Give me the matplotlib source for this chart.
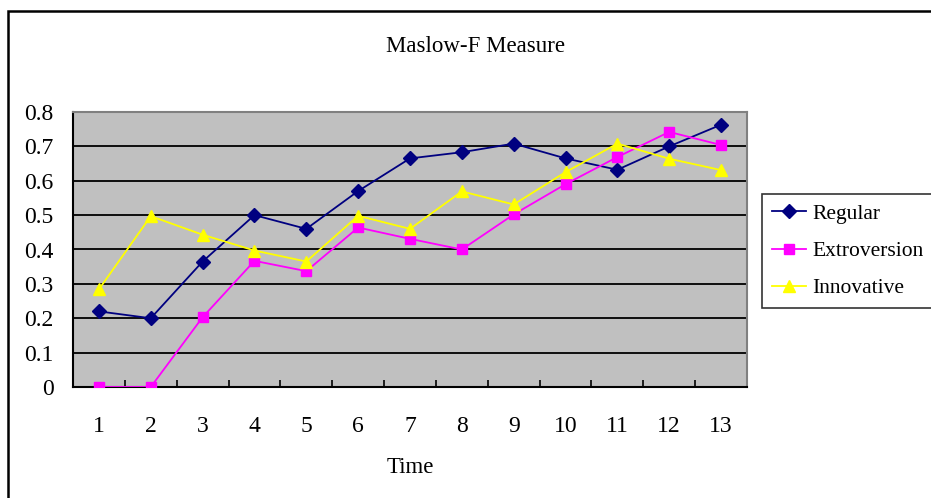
import matplotlib
matplotlib.use("Agg")
import matplotlib.pyplot as plt
import matplotlib.patches as patches

plt.rcParams['font.family'] = ['Liberation Serif', 'DejaVu Serif']

# survey rounds
times = [1, 2, 3, 4, 5, 6, 7, 8, 9, 10, 11, 12, 13]
tick_labels = [str(t) for t in times]

# Maslow-F scores per group
regular = [0.22, 0.20, 0.365, 0.50, 0.46, 0.57, 0.665, 0.683, 0.708, 0.665, 0.632, 0.70, 0.763]
extroversion = [0.0, 0.0, 0.203, 0.367, 0.337, 0.464, 0.431, 0.40, 0.502, 0.59, 0.669, 0.742, 0.704]
innovative = [0.284, 0.497, 0.443, 0.397, 0.365, 0.498, 0.46, 0.569, 0.531, 0.625, 0.708, 0.664, 0.631]

fig = plt.figure(figsize=(9.31, 4.98), dpi=100)

# outer chart frame, runs off the right and bottom edges
frame = patches.Rectangle((8 / 931, -0.1), 1.2, 1 - 11 / 498 + 0.1,
                          transform=fig.transFigure, fill=False,
                          edgecolor='black', linewidth=1.8)
fig.patches.append(frame)

ax = fig.add_axes([73 / 931, 1 - 387 / 498, 674 / 931, 275 / 498])
ax.set_facecolor('#C0C0C0')

ax.plot(times, regular, color='#000080', marker='D', markersize=7.5,
        linewidth=1.3, label='Regular', zorder=3)
ax.plot(times, extroversion, color='#FF00FF', marker='s', markersize=7.5,
        linewidth=1.3, label='Extroversion', zorder=3)
ax.plot(times, innovative, color='#FFFF00', marker='^', markersize=9,
        linewidth=1.3, label='Innovative', zorder=3)

ax.set_xlim(0.5, 13.5)
ax.set_ylim(0, 0.8)
ax.set_yticks([0, 0.1, 0.2, 0.3, 0.4, 0.5, 0.6, 0.7, 0.8])
ax.set_yticklabels(['0', '0.1', '0.2', '0.3', '0.4', '0.5', '0.6', '0.7', '0.8'])
ax.yaxis.grid(True, color='black', linewidth=1.3)
ax.set_axisbelow(True)

# category labels centred, tick marks between categories
ax.set_xticks(times)
ax.set_xticklabels(tick_labels)
ax.set_xticks([t + 0.5 for t in range(0, 14)], minor=True)
ax.tick_params(axis='x', which='major', length=0, pad=21, labelsize=17)
ax.tick_params(axis='x', which='minor', direction='in', length=5, width=1.2)
ax.tick_params(axis='y', length=0, pad=14, labelsize=17)

for side in ['left', 'bottom']:
    ax.spines[side].set_color('black')
    ax.spines[side].set_linewidth(1.5)
for side in ['top', 'right']:
    ax.spines[side].set_color('#808080')
    ax.spines[side].set_linewidth(1.5)

fig.text(476 / 931, 1 - 47 / 498, 'Maslow-F Measure', ha='center', va='center', fontsize=16.5)
fig.text(410 / 931, 1 - 467 / 498, 'Time', ha='center', va='center', fontsize=16.5)

leg = fig.legend(loc='upper left', bbox_to_anchor=(762 / 931, 1 - 194 / 498),
                 fontsize=15.5, frameon=True, fancybox=False, handlelength=1.6,
                 handletextpad=0.3, labelspacing=0.8, borderpad=0.45,
                 borderaxespad=0)
leg.get_frame().set_edgecolor('black')
leg.get_frame().set_linewidth(1.2)

fig.savefig('out.png', dpi=100)
